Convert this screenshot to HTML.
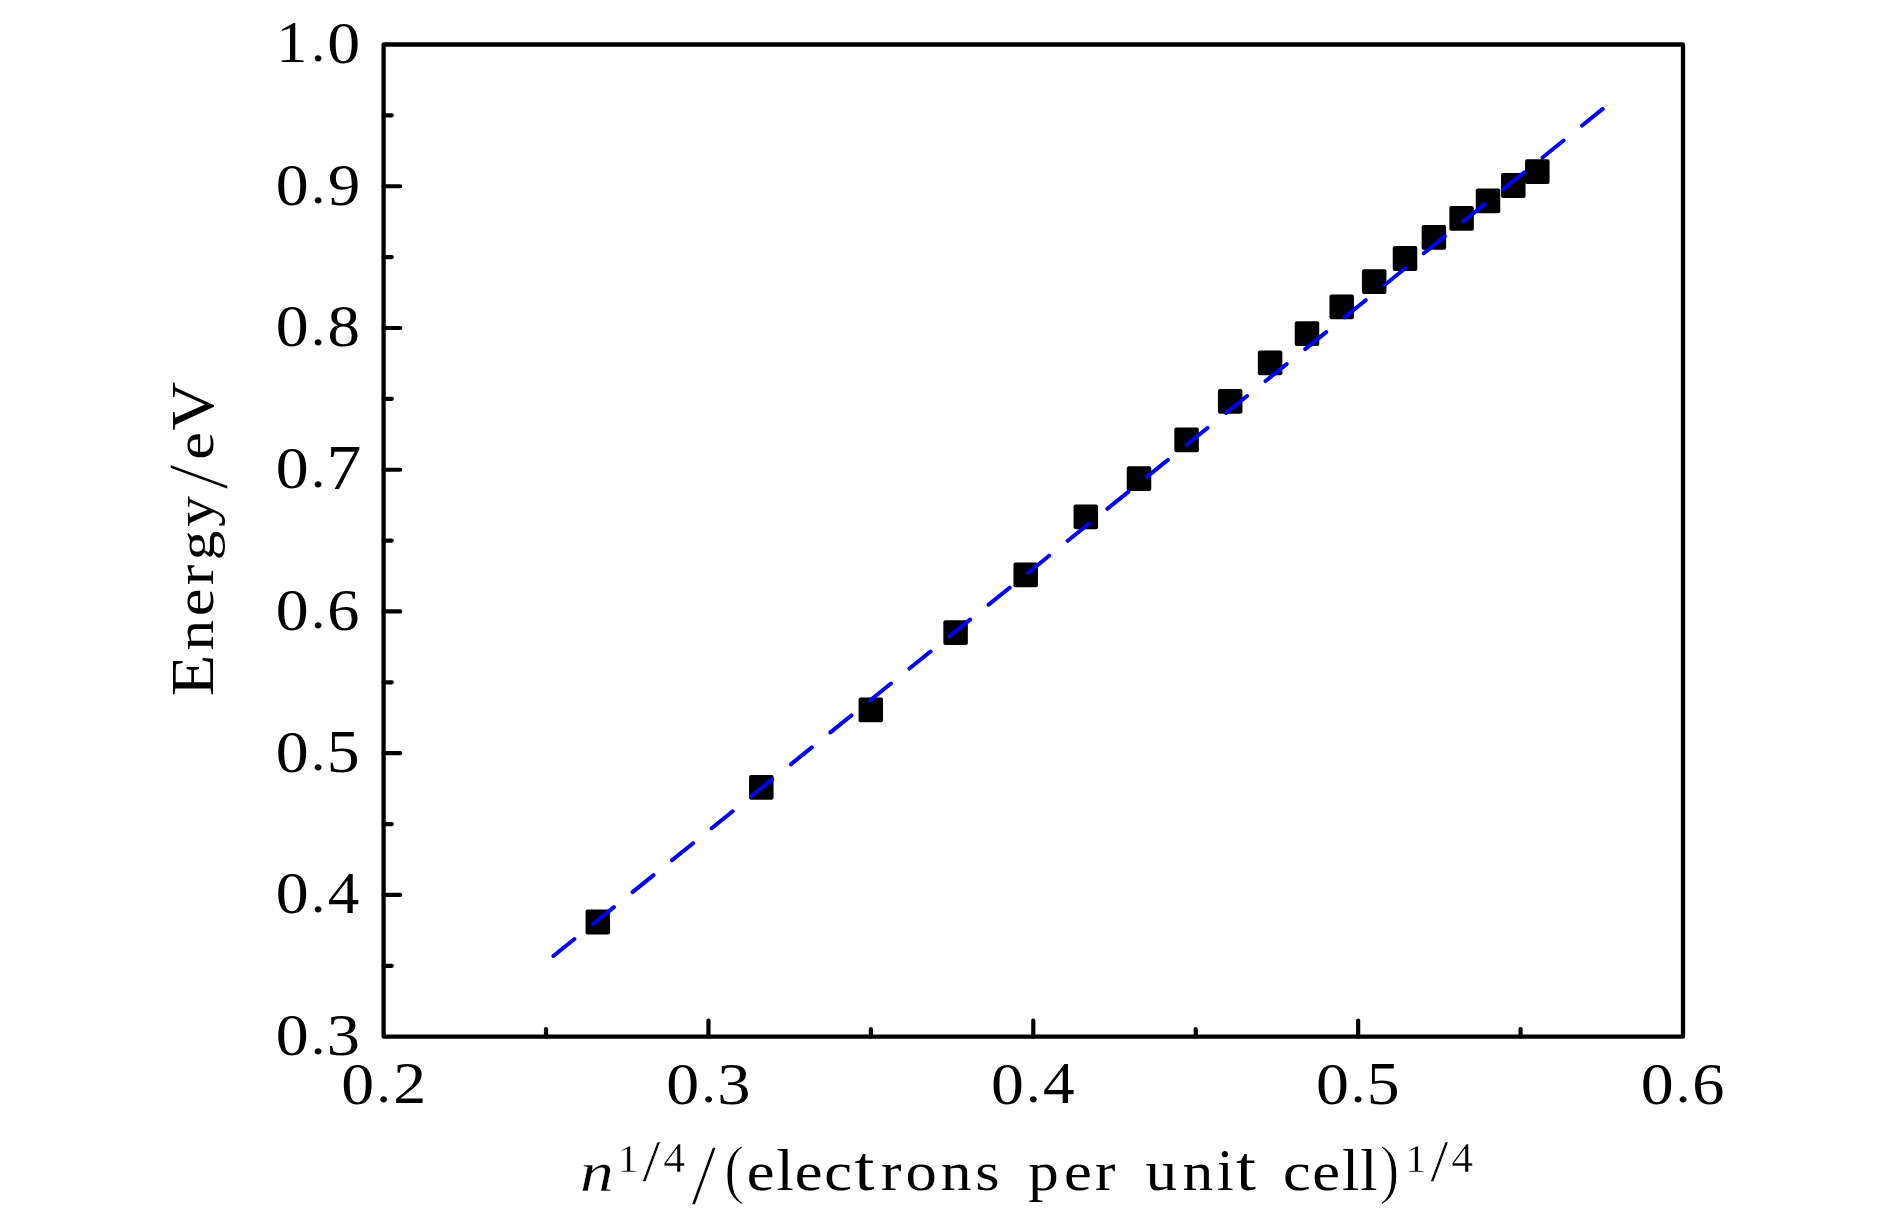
<!DOCTYPE html>
<html><head><meta charset="utf-8"><title>Energy vs n^(1/4)</title><style>

html,body{margin:0;padding:0;background:#fff;}
svg{display:block;}
text{font-family:"Liberation Serif",serif;font-size:100px;fill:#000;-webkit-font-smoothing:antialiased;}
svg{will-change:transform;}
</style></head><body>
<svg width="1890" height="1217" viewBox="0 0 1890 1217">
<rect width="1890" height="1217" fill="#fff"/>
<g fill="#000">
<rect x="585.55" y="909.60" width="24.5" height="24.8" rx="2"/>
<rect x="749.05" y="774.90" width="24.5" height="24.8" rx="2"/>
<rect x="858.55" y="697.50" width="24.5" height="24.8" rx="2"/>
<rect x="943.35" y="620.30" width="24.5" height="24.8" rx="2"/>
<rect x="1013.45" y="562.40" width="24.5" height="24.8" rx="2"/>
<rect x="1073.55" y="504.40" width="24.5" height="24.8" rx="2"/>
<rect x="1126.75" y="466.20" width="24.5" height="24.8" rx="2"/>
<rect x="1174.35" y="427.50" width="24.5" height="24.8" rx="2"/>
<rect x="1217.95" y="389.00" width="24.5" height="24.8" rx="2"/>
<rect x="1257.85" y="350.40" width="24.5" height="24.8" rx="2"/>
<rect x="1294.75" y="321.30" width="24.5" height="24.8" rx="2"/>
<rect x="1329.45" y="294.40" width="24.5" height="24.8" rx="2"/>
<rect x="1361.95" y="269.30" width="24.5" height="24.8" rx="2"/>
<rect x="1392.75" y="246.10" width="24.5" height="24.8" rx="2"/>
<rect x="1421.65" y="224.90" width="24.5" height="24.8" rx="2"/>
<rect x="1449.35" y="205.90" width="24.5" height="24.8" rx="2"/>
<rect x="1475.75" y="188.40" width="24.5" height="24.8" rx="2"/>
<rect x="1501.05" y="173.10" width="24.5" height="24.8" rx="2"/>
<rect x="1525.05" y="159.30" width="24.5" height="24.8" rx="2"/>
</g>
<path d="M553.4 956.0L1602.7 108.9" stroke="#0000ff" stroke-width="4.0" stroke-linecap="round" stroke-dasharray="27.0 23.85" fill="none"/>
<path d="M383.6 44.5H1683.0V1036.7H383.6Z" fill="none" stroke="#000" stroke-width="4.3" stroke-linejoin="round"/>
<path d="M383.6 894.96H400.2 M383.6 753.21H400.2 M383.6 611.47H400.2 M383.6 469.73H400.2 M383.6 327.99H400.2 M383.6 186.24H400.2 M383.6 965.83H391.8 M383.6 824.09H391.8 M383.6 682.34H391.8 M383.6 540.60H391.8 M383.6 398.86H391.8 M383.6 257.11H391.8 M383.6 115.37H391.8 M708.45 1036.7V1020.5 M1033.30 1036.7V1020.5 M1358.15 1036.7V1020.5 M546.02 1036.7V1029.0 M870.87 1036.7V1029.0 M1195.72 1036.7V1029.0 M1520.58 1036.7V1029.0" fill="none" stroke="#000" stroke-width="4.2" stroke-linecap="round"/>
<g><text transform="matrix(0.6586,0,0,0.5964,275.81,1055.00)">0</text><text transform="matrix(0.5878,0,0,0.5248,310.75,1053.56)">.</text><text transform="matrix(0.6661,0,0,0.5990,326.85,1055.00)">3</text></g>
<g><text transform="matrix(0.6586,0,0,0.5964,275.81,913.26)">0</text><text transform="matrix(0.5878,0,0,0.5248,310.75,911.81)">.</text><text transform="matrix(0.6318,0,0,0.6017,327.87,912.56)">4</text></g>
<g><text transform="matrix(0.6586,0,0,0.5964,275.81,771.52)">0</text><text transform="matrix(0.5878,0,0,0.5248,310.75,770.07)">.</text><text transform="matrix(0.6567,0,0,0.6056,326.75,771.51)">5</text></g>
<g><text transform="matrix(0.6586,0,0,0.5964,275.81,629.78)">0</text><text transform="matrix(0.5878,0,0,0.5248,310.75,628.33)">.</text><text transform="matrix(0.6440,0,0,0.5990,327.27,629.77)">6</text></g>
<g><text transform="matrix(0.6586,0,0,0.5964,275.81,488.03)">0</text><text transform="matrix(0.5878,0,0,0.5248,310.75,486.59)">.</text><text transform="matrix(0.6984,0,0,0.6236,326.43,488.62)">7</text></g>
<g><text transform="matrix(0.6586,0,0,0.5964,275.81,346.29)">0</text><text transform="matrix(0.5878,0,0,0.5248,310.75,344.84)">.</text><text transform="matrix(0.6492,0,0,0.5964,327.56,346.29)">8</text></g>
<g><text transform="matrix(0.6586,0,0,0.5964,275.81,204.55)">0</text><text transform="matrix(0.5878,0,0,0.5248,310.75,203.10)">.</text><text transform="matrix(0.6447,0,0,0.5990,327.96,204.54)">9</text></g>
<g><text transform="matrix(0.6215,0,0,0.5902,276.17,62.10)">1</text><text transform="matrix(0.5878,0,0,0.5248,310.75,61.36)">.</text><text transform="matrix(0.6586,0,0,0.5964,327.33,62.80)">0</text></g>
<g><text transform="matrix(0.6586,0,0,0.5964,341.34,1103.70)">0</text><text transform="matrix(0.5878,0,0,0.5248,376.29,1102.26)">.</text><text transform="matrix(0.6591,0,0,0.5884,393.22,1103.00)">2</text></g>
<g><text transform="matrix(0.6586,0,0,0.5964,666.19,1103.70)">0</text><text transform="matrix(0.5878,0,0,0.5248,701.14,1102.26)">.</text><text transform="matrix(0.6661,0,0,0.5990,717.23,1103.70)">3</text></g>
<g><text transform="matrix(0.6586,0,0,0.5964,991.04,1103.70)">0</text><text transform="matrix(0.5878,0,0,0.5248,1025.99,1102.26)">.</text><text transform="matrix(0.6318,0,0,0.6017,1043.10,1103.00)">4</text></g>
<g><text transform="matrix(0.6586,0,0,0.5964,1315.89,1103.70)">0</text><text transform="matrix(0.5878,0,0,0.5248,1350.84,1102.26)">.</text><text transform="matrix(0.6567,0,0,0.6056,1366.83,1103.70)">5</text></g>
<g><text transform="matrix(0.6586,0,0,0.5964,1640.74,1103.70)">0</text><text transform="matrix(0.5878,0,0,0.5248,1675.69,1102.26)">.</text><text transform="matrix(0.6440,0,0,0.5990,1692.20,1103.70)">6</text></g>
<g><text transform="matrix(0.6749,0,0,0.5624,579.89,1190.54)" font-style="italic" style="stroke:#fff;stroke-width:0.4px;vector-effect:non-scaling-stroke">n</text><text transform="matrix(0.4312,0,0,0.4045,617.20,1171.90)" style="stroke:#fff;stroke-width:0.5px;vector-effect:non-scaling-stroke">1</text><text transform="matrix(0.6407,0,0,0.5995,642.48,1181.34)" style="stroke:#fff;stroke-width:0.5px;vector-effect:non-scaling-stroke">/</text><text transform="matrix(0.4384,0,0,0.4125,663.33,1171.90)" style="stroke:#fff;stroke-width:0.5px;vector-effect:non-scaling-stroke">4</text><text transform="matrix(0.9235,0,0,0.8745,691.00,1203.67)" style="stroke:#fff;stroke-width:1.5px;vector-effect:non-scaling-stroke">/</text><text transform="matrix(0.5989,0,0,0.6452,724.37,1190.79)" style="stroke:#fff;stroke-width:1.0px;vector-effect:non-scaling-stroke">(</text><text transform="matrix(0.6253,0,0,0.5583,746.83,1190.00)">e</text><text transform="matrix(0.6190,0,0,0.5851,776.55,1189.90)">l</text><text transform="matrix(0.6253,0,0,0.5583,794.64,1190.00)">e</text><text transform="matrix(0.6253,0,0,0.5583,824.18,1190.00)">c</text><text transform="matrix(0.7161,0,0,0.6394,854.39,1189.92)">t</text><text transform="matrix(0.6146,0,0,0.5488,880.98,1189.90)">r</text><text transform="matrix(0.6253,0,0,0.5583,905.40,1190.00)">o</text><text transform="matrix(0.6146,0,0,0.5488,940.83,1189.90)">n</text><text transform="matrix(0.6253,0,0,0.5583,975.14,1190.00)">s</text> <text transform="matrix(0.6091,0,0,0.5439,1028.31,1189.67)">p</text><text transform="matrix(0.6253,0,0,0.5583,1063.90,1190.00)">e</text><text transform="matrix(0.6146,0,0,0.5488,1095.08,1189.90)">r</text> <text transform="matrix(0.6332,0,0,0.5653,1145.57,1189.99)">u</text><text transform="matrix(0.6146,0,0,0.5488,1182.47,1189.90)">n</text><text transform="matrix(0.5967,0,0,0.5911,1217.01,1189.90)">i</text><text transform="matrix(0.7161,0,0,0.6394,1235.98,1189.92)">t</text> <text transform="matrix(0.6253,0,0,0.5583,1282.92,1190.00)">c</text><text transform="matrix(0.6253,0,0,0.5583,1312.25,1190.00)">e</text><text transform="matrix(0.6190,0,0,0.5851,1341.97,1189.90)">l</text><text transform="matrix(0.6190,0,0,0.5851,1360.33,1189.90)">l</text><text transform="matrix(0.5989,0,0,0.6452,1379.60,1190.79)" style="stroke:#fff;stroke-width:1.0px;vector-effect:non-scaling-stroke">)</text><text transform="matrix(0.4312,0,0,0.4045,1405.10,1171.90)" style="stroke:#fff;stroke-width:0.5px;vector-effect:non-scaling-stroke">1</text><text transform="matrix(0.6407,0,0,0.5995,1430.38,1181.34)" style="stroke:#fff;stroke-width:0.5px;vector-effect:non-scaling-stroke">/</text><text transform="matrix(0.4384,0,0,0.4125,1451.23,1171.90)" style="stroke:#fff;stroke-width:0.5px;vector-effect:non-scaling-stroke">4</text></g>
<g transform="translate(213.0,698.89) rotate(-90)"><text transform="matrix(0.6804,0,0,0.6075,2.64,0.00)">E</text><text transform="matrix(0.6146,0,0,0.5488,48.27,0.00)">n</text><text transform="matrix(0.6253,0,0,0.5583,82.55,0.10)">e</text><text transform="matrix(0.6146,0,0,0.5488,113.73,0.00)">r</text><text transform="matrix(0.5923,0,0,0.5288,138.73,0.64)">g</text><text transform="matrix(0.6175,0,0,0.5514,172.17,0.09)">y</text><text transform="matrix(0.9235,0,0,0.8745,209.04,13.77)" style="stroke:#fff;stroke-width:1.5px;vector-effect:non-scaling-stroke">/</text><text transform="matrix(0.6253,0,0,0.5583,239.15,0.10)">e</text><text transform="matrix(0.6737,0,0,0.6156,268.42,0.36)">V</text></g>
</svg>
</body></html>
